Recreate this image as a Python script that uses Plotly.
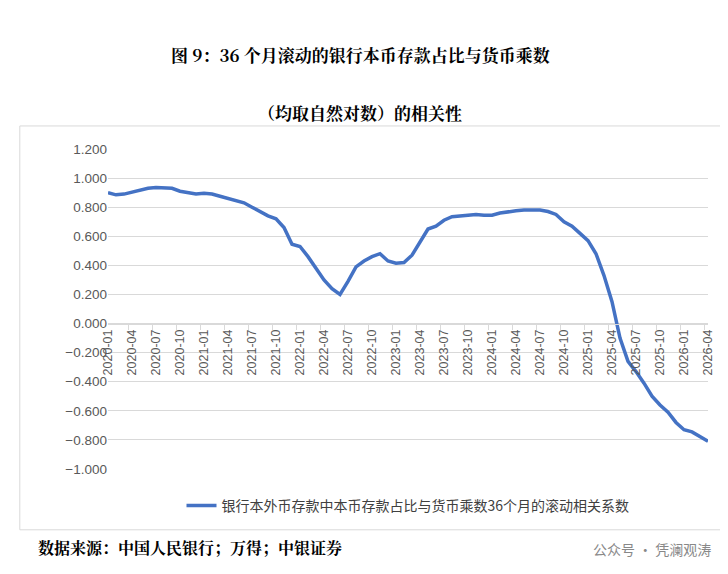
import plotly.graph_objects as go

months = [f"{y}-{m:02d}" for y in range(2020, 2027) for m in range(1, 13)][:76]
values = [0.90,0.885,0.89,0.905,0.92,0.93,0.935,0.93,0.93,0.91,0.90,0.89,
          0.895,0.89,0.875,0.86,0.845,0.83,0.80,0.77,0.74,0.72,0.66,0.545,
          0.53,0.46,0.38,0.30,0.24,0.20,0.29,0.39,0.43,0.46,0.48,0.43,
          0.415,0.42,0.47,0.56,0.65,0.67,0.71,0.735,0.74,0.75,0.75,0.745,
          0.745,0.76,0.77,0.775,0.78,0.78,0.78,0.77,0.75,0.70,0.67,0.62,
          0.57,0.48,0.33,0.15,-0.10,-0.26,-0.33,-0.41,-0.50,-0.56,-0.61,-0.68,
          -0.73,-0.745,-0.78,-0.81]
series_name = "银行本外币存款中本币存款占比与货币乘数36个月的滚动相关系数"
tick_labels = months[::3]

fig = go.Figure(go.Scatter(x=months, y=values, mode="lines", name=series_name,
                           line=dict(color="#4472C4", width=3.5)))
F = "Noto Sans CJK SC"
SERIF = "Noto Serif CJK SC, " + F
fig.update_layout(
    width=728, height=574, paper_bgcolor="white", plot_bgcolor="white",
    margin=dict(l=100, r=28, t=141, b=113, autoexpand=False),
    font=dict(family=F, color="#595959", size=13),
    showlegend=True,
    legend=dict(x=0.5, xanchor="center", y=-0.115, yanchor="middle", orientation="h",
                font=dict(size=14, color="#404040")),
    xaxis=dict(type="category", tickvals=tick_labels, ticktext=tick_labels, tickangle=-90,
               showgrid=False, showline=True, linecolor="#D9D9D9", ticks="outside",
               tickcolor="#D9D9D9", ticklen=5, tickson="boundaries",
               anchor="free", position=1.0/2.2, automargin=False,
               tickfont=dict(size=12.5, family="Liberation Sans")),
    yaxis=dict(range=[-1.0, 1.2], dtick=0.2, tickformat=".3f", gridcolor="#D9D9D9",
               zeroline=False, showline=False, automargin=False,
               tickfont=dict(size=13.5, family="Liberation Sans")),
    shapes=[dict(type="rect", xref="paper", yref="paper", x0=-0.147, x1=1.025, y0=-0.19, y1=1.072,
                 line=dict(color="#D9D9D9", width=1))],
)
fig.add_annotation(text="<b>图 9：36 个月滚动的银行本币存款占比与货币乘数</b>", xref="paper", yref="paper",
                   x=0.42, y=1.34, showarrow=False, font=dict(size=17, color="black", family=SERIF))
fig.add_annotation(text="<b>（均取自然对数）的相关性</b>", xref="paper", yref="paper",
                   x=0.42, y=1.16, showarrow=False, font=dict(size=17, color="black", family=SERIF))
fig.add_annotation(text="<b>数据来源：中国人民银行；万得；中银证券</b>", xref="paper", yref="paper",
                   x=-0.12, xanchor="left", y=-0.287, showarrow=False, font=dict(size=16, color="black", family=SERIF))
fig.add_annotation(text="公众号 · 凭澜观涛", xref="paper", yref="paper",
                   x=1.008, xanchor="right", y=-0.287, showarrow=False, font=dict(size=14, color="#888888", family=F))
fig.write_html("out.html")
